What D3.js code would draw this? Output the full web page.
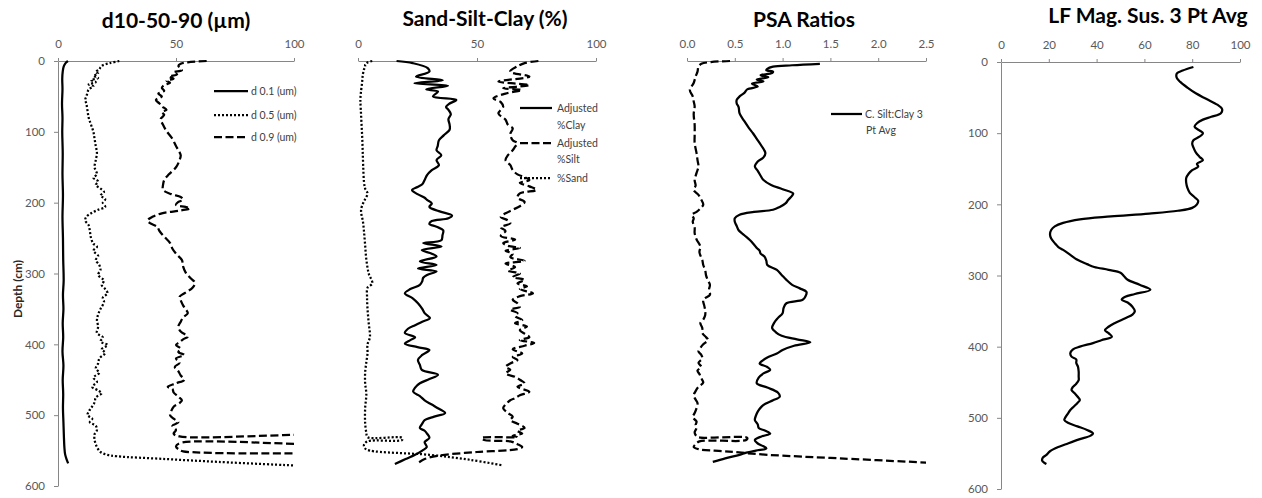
<!DOCTYPE html>
<html><head><meta charset="utf-8">
<script src="https://cdn.jsdelivr.net/npm/d3@7"></script>
<style>
html,body{margin:0;padding:0;background:#fff;}
svg{display:block;}
text{font-family:Lato,"Open Sans",sans-serif;}
</style></head>
<body>
<svg id="chart" width="1262" height="498"></svg>
<script>
// ---------------- DATA ----------------
const titles = ["d10-50-90 (\u00b5m)", "Sand-Silt-Clay (%)", "PSA Ratios", "LF Mag. Sus. 3 Pt Avg"];
const depthTicks = [0,100,200,300,400,500,600];
const ticks1 = [0,50,100];
const ticks2 = [0,50,100];
const ticks3 = [0,0.5,1.0,1.5,2.0,2.5];
const ticks4 = [0,20,40,60,80,100];
const depthLabel = "Depth (cm)";
const legend1 = ["d 0.1 (um)", "d 0.5 (um)", "d 0.9 (um)"];
const legend2 = [["Adjusted","%Clay"],["Adjusted","%Silt"],["%Sand"]];
const legend3 = [["C. Silt:Clay 3","Pt Avg"]];

// [depth cm, value]
const d01 = [[0,4.2],[3,3.2],[8,2.4],[15,2],[25,1.8],[40,1.9],[60,1.7],[80,1.9],[100,1.8],[130,2],[160,1.9],[190,2.1],[220,1.9],[250,2.1],[280,2.2],[310,2.4],[330,2.1],[350,2.3],[370,2],[390,2.2],[410,1.9],[430,2.3],[450,2],[470,2.2],[490,2.1],[510,2.3],[530,2.5],[545,2.7],[555,3],[562,3.6],[568,4.3]];
const d05 = [[0,26],[3,22],[6,19],[9,18],[12,17.5],[15,16],[18,17],[21,15],[24,17],[27,14],[30,16],[33,13],[36,15],[40,13],[45,12.5],[50,12],[55,11.5],[60,12],[70,12.5],[80,13],[90,14],[100,15],[110,15.5],[120,16],[130,16.5],[140,16],[150,15.5],[160,16.5],[165,15],[170,17],[175,16],[180,18],[185,19.5],[190,18],[195,20],[200,19],[206,20],[210,17],[215,14],[220,12],[225,11.5],[232,13],[240,13.5],[250,14],[258,15],[262,16.5],[268,15],[275,17],[281,16],[288,17.5],[295,18],[302,17],[310,19.5],[316,18.5],[322,20],[328,21],[334,19],[340,19.5],[350,18],[358,17],[366,16.5],[375,17],[384,16.5],[390,19],[396,18],[401,21],[407,18.5],[412,20],[420,17.5],[427,17],[434,16],[440,17.5],[447,15],[453,16.5],[460,14.5],[465,17],[469,18.5],[475,16],[482,15.5],[490,14],[495,13],[500,12.5],[505,14.5],[510,13.5],[515,16],[521,16.5],[527,15.5],[535,15.5],[545,16.5],[552,18],[556,21],[558,25],[562,46],[566,68],[571,100]];
const d09 = [[0,63],[2,55],[4,52],[7,51],[10,52],[13,52.5],[16,49],[19,50.5],[22,47],[25,49],[28,46],[31,47.5],[34,45],[38,44],[42,45],[46,42.5],[50,44],[55,41.5],[60,43],[64,44],[69,46],[72,44],[76,45],[82,43.5],[90,44.5],[99,46],[110,48.5],[120,50],[126,51],[133,52],[140,51.5],[150,50],[160,47],[168,45],[175,44.5],[182,44.5],[188,48],[192,52],[196,53],[199,51],[203,50],[206,54],[208,56],[211,52],[215,44],[220,40],[225,38],[229,39],[234,42],[240,43],[248,45],[257,47.5],[265,48.5],[272,50],[281,52.5],[290,53],[298,54],[306,56],[313,58],[320,57],[327,54],[333,51.5],[338,52],[345,53],[350,54],[356,55],[362,53],[368,52],[375,51],[382,52],[389,55],[393,53],[397,51.5],[401,50],[406,52],[411,51],[415,53.5],[420,50],[426,51.5],[432,49.5],[438,51],[444,52],[450,53.5],[455,50],[460,46.5],[463,48.5],[468,49],[474,51],[479,52.5],[483,51.5],[488,49],[494,48],[500,47.5],[505,49],[510,51],[515,48.5],[521,50],[526,49],[530,51.5],[531,140],[538,140],[539,52],[544,50],[548,51],[551,53],[553,140]];

const sand = [[0,6],[2,4],[5,3],[8,3],[12,2.5],[20,2],[31,1.7],[45,1.2],[55,1],[70,1.2],[90,1.5],[110,1.8],[130,2],[150,2.2],[170,2.5],[180,3],[187,4],[195,3],[202,2],[210,1.3],[218,1.5],[225,2],[240,2.5],[260,3],[280,3.5],[300,4.5],[314,6],[320,4],[333,3.8],[350,4],[370,4.5],[390,5],[400,4],[413,4],[425,3.5],[440,3],[455,3],[470,3.5],[490,3],[511,3],[525,3.5],[531,4],[532,18.5],[535,18.5],[537,4],[542,2.5],[547,3],[550,5],[556,30],[563,47],[571,61]];
const clay = [[0,16.2],[3,23],[10,29.3],[15,30],[22,24.4],[27,35.6],[31.5,23.7],[35,37.8],[40,28.7],[43,33.6],[50,31.5],[55,41.3],[60,38.5],[65,37],[69,38],[75,39],[82,38],[90,38.5],[97,38.5],[105,36],[112,34],[120,33.5],[126,33],[133,35],[140,33],[147,34],[154,31],[161,29],[168,28],[174,27],[178,25],[182,22.7],[188,25],[193,28],[196,29],[201,31],[206,30],[212,34],[218,39.5],[222,38],[226,31],[230,30],[234,33],[239,35.8],[246,35.5],[253,35],[257,27.4],[262,35.1],[267,26.8],[272,31],[276,33],[283,26],[288,33],[293,25.2],[297,33],[302,29],[306,27.4],[311,27],[316,26],[322,22],[328,19.7],[335,23],[342,25.2],[350,27],[356,28],[363,30.2],[368,27],[373,24],[378,21],[384,19.7],[390,24],[394,22],[399,19.7],[404,25],[408,30],[415,27],[422,25.2],[429,26],[436,26.8],[443,33.6],[449,30],[455,26],[461,24],[467,23.2],[473,26],[479,28],[485,31],[491,34],[497,36.6],[502,32],[507,28],[512,27],[518,26],[522,28],[526,29],[532,30],[538,28],[545,28.9],[550,27],[556,24],[562,20],[569,15.5]];
const silt = [[0,75.8],[3,70],[8,66.7],[15,63.9],[22,72],[29,59],[34,72],[38.6,61],[41,68.8],[46,62],[52.7,56.9],[58,60],[64.5,61],[74,59],[83,62],[90,63],[95,65],[103,64],[112,65],[116,67],[121,66],[126,65],[133,63],[140,62],[147,64],[154,65],[160,67],[164,70],[168,72],[172,68],[177,72],[182,75],[187,68],[193,67],[199,70],[205,68],[210,65],[215,62],[220,60],[225,63],[229,64],[235,60],[240,62],[247,60],[252,66],[257,61],[261,63],[264,68],[268,62],[272,65],[277,64],[282,70],[286,62],[291,66],[296,63],[300,68],[305,65],[309,70],[314,67],[318,71],[322,68],[328,73.5],[332,68],[337,65],[342,67],[347,68],[351,64],[356,67],[360,66],[366,69],[370,66],[375,71],[380,68],[385,70],[390,72],[394,68],[398,74],[402,70],[407,65],[413,69],[418,65],[422,67],[427,64],[432,62],[436,64],[441,62],[446,66],[450,68],[455,70],[460,67],[467,72],[472,68],[476,66],[479,64],[485,62],[490,61],[497,63],[502,65],[507,64],[512,67],[518,70],[522,67],[526,69],[529,65],[531,67],[532,52],[535,53],[537,64],[541,67],[545,69],[548,67],[552,50],[557,34],[562,28],[568,25]];

const siltClay = [[4,1.39],[6,1.1],[8,0.9],[11,0.84],[13,0.83],[15,0.9],[17,0.89],[20,0.77],[23,0.85],[26,0.73],[29,0.8],[32,0.68],[36,0.74],[40,0.63],[45,0.6],[50,0.55],[55,0.52],[60,0.52],[65,0.54],[74,0.55],[85,0.6],[95,0.65],[102,0.69],[110,0.73],[120,0.78],[130,0.82],[136,0.8],[142,0.74],[149,0.71],[155,0.74],[162,0.77],[168,0.8],[175,0.88],[181,1.0],[187,1.11],[190,1.1],[196,1.06],[201,1.03],[206,0.97],[210,0.9],[213,0.7],[217,0.55],[222,0.5],[227,0.5],[233,0.52],[239,0.54],[246,0.6],[253,0.66],[259,0.7],[264,0.73],[268,0.76],[272,0.77],[276,0.81],[282,0.83],[288,0.84],[295,0.94],[302,0.99],[309,1.04],[316,1.1],[321,1.18],[326,1.25],[332,1.24],[337,1.21],[342,1.04],[349,1.01],[356,1.0],[363,0.95],[370,0.91],[377,0.89],[383,0.93],[388,0.99],[393,1.15],[397,1.29],[402,1.12],[408,1.0],[413,0.94],[418,0.85],[423,0.79],[427,0.76],[432,0.84],[436,0.87],[441,0.8],[447,0.75],[455,0.73],[461,0.84],[468,0.95],[474,0.97],[479,0.9],[484,0.82],[488,0.78],[495,0.74],[501,0.72],[507,0.71],[513,0.74],[518,0.75],[522,0.82],[526,0.87],[530,0.78],[535,0.71],[540,0.74],[544,0.8],[547,0.83],[550,0.72],[553,0.62],[556,0.55],[561,0.4],[566,0.27]];
const ratio2 = [[0,0.45],[1.5,0.25],[4,0.15],[8,0.12],[15,0.11],[22,0.09],[31,0.07],[41,0.03],[50,0.06],[57,0.07],[64,0.08],[75,0.07],[90,0.08],[105,0.08],[116,0.08],[130,0.1],[140,0.11],[149,0.12],[158,0.1],[168,0.08],[176,0.09],[182,0.07],[189,0.12],[196,0.15],[203,0.17],[208,0.14],[213,0.1],[217,0.05],[222,0.07],[227,0.06],[235,0.08],[243,0.08],[252,0.1],[262,0.14],[270,0.13],[281,0.16],[288,0.17],[295,0.19],[303,0.2],[310,0.22],[316,0.24],[323,0.23],[330,0.24],[337,0.17],[345,0.18],[352,0.19],[359,0.19],[365,0.17],[370,0.14],[377,0.16],[384,0.16],[390,0.2],[394,0.22],[400,0.17],[405,0.14],[410,0.12],[415,0.15],[420,0.16],[426,0.12],[432,0.15],[437,0.11],[442,0.13],[448,0.15],[454,0.17],[460,0.12],[466,0.09],[472,0.07],[478,0.09],[483,0.11],[490,0.1],[497,0.08],[503,0.06],[509,0.1],[514,0.09],[518,0.1],[524,0.08],[528,0.09],[531,0.12],[532,0.63],[535,0.62],[537,0.13],[541,0.09],[545,0.07],[548,0.12],[551,0.4],[556,0.85],[561,1.6],[567,2.51]];

const magSus = [[7,80.5],[12,76],[16,73.6],[22,73.5],[28,75],[36,78],[44,81.5],[52,86],[60,90.5],[66,92.5],[72,92],[77,88],[81,84.5],[86,82],[91,81],[96,83],[100,84.5],[105,83],[110,80.5],[115,80],[120,80.5],[127,81.5],[133,83],[138,84.5],[143,82],[147,82.5],[152,80],[157,78.5],[163,77.5],[170,77.5],[177,78],[184,79],[190,81],[195,82.5],[200,82],[205,80],[209,74],[213,62],[217,46],[221,33],[226,26],[231,22.5],[236,21],[242,20.5],[248,21],[255,22.6],[260,24],[264,26],[271,29],[278,32],[284,36],[288,39],[292,45],[296,50],[301,51.5],[306,53],[313,58],[320,62.5],[326,56],[330,52],[334,50.5],[338,53],[344,55],[350,56],[355,55],[360,52],[367,47.5],[372,45],[377,43.5],[381,45],[386,46.4],[391,42],[395,38.5],[400,33],[404,30],[409,29],[414,29.5],[418,31.5],[423,31.5],[428,32.2],[435,32.5],[442,32.5],[447,32.5],[452,31.5],[457,30],[461,29.5],[466,31],[470,32],[475,33],[479,32],[484,30.5],[489,29],[494,28],[499,27],[503,26.5],[507,28],[512,32],[517,36],[522,38.5],[525,37.5],[530,33],[536,28],[541,24],[547,20.5],[552,19],[556,17.5],[560,17.2],[563,18],[565,19]];

// ---------------- LAYOUT / STYLE ----------------
const svg = d3.select("#chart");
const AXIS = "#868686", LABEL = "#595959", LEG = "#404040";
const STY = {
  solid: {w:2.25, dash:null},
  dot:   {w:2.25, dash:"2,2"},
  dash:  {w:2.25, dash:"8,3.5"}
};

const panels = [
  {x:[58,294],  y:[61,486], xd:[0,100], ticks:ticks1, fmt:d3.format("d"), title:titles[0], tx:176, ty:28, yaxis:true,
   series:[[d01,"solid"],[d05,"dot"],[d09,"dash"]]},
  {x:[358,596], y:[61,486], xd:[0,100], ticks:ticks2, fmt:d3.format("d"), title:titles[1], tx:485, ty:26, yaxis:false,
   series:[[clay,"solid"],[silt,"dash"],[sand,"dot"]]},
  {x:[687,926], y:[61,486], xd:[0,2.5], ticks:ticks3, fmt:d3.format(".1f"), title:titles[2], tx:804, ty:27, yaxis:false,
   series:[[siltClay,"solid"],[ratio2,"dash"]]},
  {x:[1001,1240], y:[62,489], xd:[0,100], ticks:ticks4, fmt:d3.format("d"), title:titles[3], tx:1148, ty:23, yaxis:true,
   series:[[magSus,"solid"]]}
];

const defs = svg.append("defs");

panels.forEach((p,i)=>{
  const x = d3.scaleLinear().domain(p.xd).range(p.x);
  const y = d3.scaleLinear().domain([0,600]).range(p.y);

  svg.append("text").attr("x",p.tx).attr("y",p.ty).attr("text-anchor","middle")
    .attr("font-size",21).attr("font-weight","bold").attr("fill","#000").text(p.title);

  const gx = svg.append("g").attr("transform",`translate(0,${p.y[0]})`)
    .call(d3.axisTop(x).tickValues(p.ticks).tickFormat(p.fmt).tickSize(3).tickSizeOuter(0).tickPadding(10));
  gx.select(".domain").attr("stroke",AXIS);
  gx.selectAll(".tick line").attr("stroke",AXIS);
  gx.selectAll(".tick text").attr("fill",LABEL).attr("font-size",11.5).attr("font-family","Lato,'Open Sans',sans-serif");

  if(p.yaxis){
    const gy = svg.append("g").attr("transform",`translate(${p.x[0]},0)`)
      .call(d3.axisLeft(y).tickValues(depthTicks).tickFormat(d3.format("d")).tickSize(4).tickSizeOuter(0).tickPadding(9));
    gy.select(".domain").attr("stroke",AXIS);
    gy.selectAll(".tick line").attr("stroke",AXIS);
    gy.selectAll(".tick text").attr("fill",LABEL).attr("font-size",11.5).attr("font-family","Lato,'Open Sans',sans-serif");
  }

  defs.append("clipPath").attr("id","clip"+i).append("rect")
    .attr("x",p.x[0]-2).attr("y",p.y[0]-6).attr("width",p.x[1]-p.x[0]+2).attr("height",p.y[1]-p.y[0]+6);

  const line = d3.line().x(d=>x(d[1])).y(d=>y(d[0])).curve(d3.curveCatmullRom.alpha(0.5));
  const g = svg.append("g").attr("clip-path",`url(#clip${i})`);
  p.series.forEach(([data,st])=>{
    const s = STY[st];
    g.append("path").attr("d",line(data)).attr("fill","none").attr("stroke","#000")
      .attr("stroke-width",s.w).attr("stroke-dasharray",s.dash).attr("stroke-linejoin","round");
  });
});

svg.append("text").attr("transform","translate(22,289) rotate(-90)").attr("text-anchor","middle")
  .attr("font-size",12).attr("font-weight","bold").attr("fill","#262626").text(depthLabel);

function legLine(x1,x2,yy,st){
  const s = STY[st];
  svg.append("line").attr("x1",x1).attr("x2",x2).attr("y1",yy).attr("y2",yy)
    .attr("stroke","#000").attr("stroke-width",s.w).attr("stroke-dasharray",s.dash);
}
function legText(xx,yy,t){
  svg.append("text").attr("x",xx).attr("y",yy).attr("dy","0.35em").attr("font-size",10.5).attr("fill",LEG).text(t);
}
const l1y = [91,115,137], l1s=["solid","dot","dash"];
legend1.forEach((t,i)=>{ legLine(214,248,l1y[i],l1s[i]); legText(251,l1y[i],t); });

const l2y = [[108,125],[143,159],[178]], l2s=["solid","dash","dot"];
legend2.forEach((ts,i)=>{ legLine(520,552,l2y[i][0],l2s[i]); ts.forEach((t,j)=>legText(557,l2y[i][j],t)); });

legend3.forEach((ts)=>{ legLine(831,862,114,"solid"); legText(865,114,ts[0]); legText(866,130,ts[1]); });
</script>
</body></html>
